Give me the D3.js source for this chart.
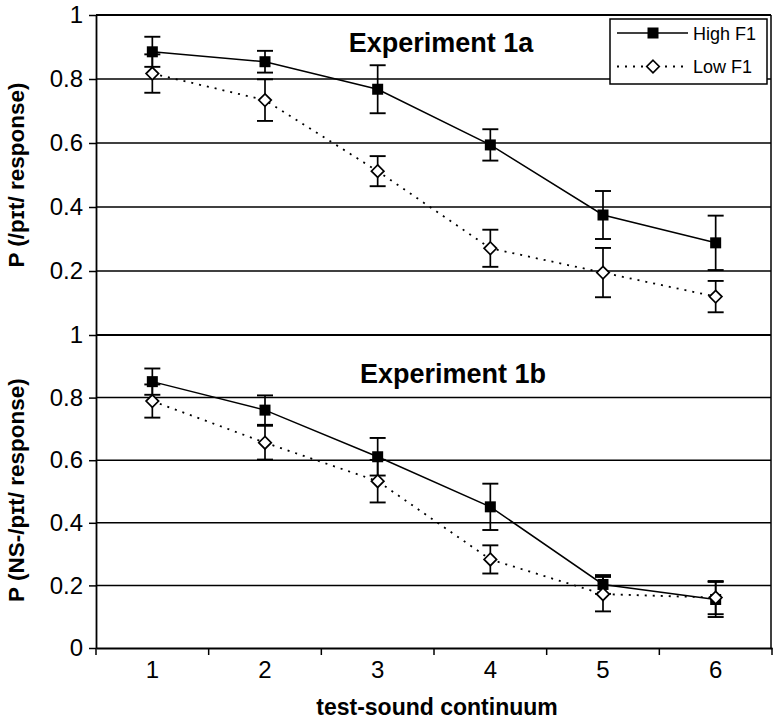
<!DOCTYPE html>
<html>
<head>
<meta charset="utf-8">
<script src="https://cdn.jsdelivr.net/npm/d3@7"></script>
<style>
  body { margin: 0; background: #fff; }
  svg text { font-family: "Liberation Sans", Arial, Helvetica, sans-serif; fill: #000; }
</style>
</head>
<body>
<div id="grafico"></div>
<script>
// Continuum steps
const passos = [1, 2, 3, 4, 5, 6];

// Experiment 1a
const altoA = [0.885, 0.854, 0.768, 0.594, 0.375, 0.288];
const altoAErro = [0.047, 0.034, 0.075, 0.049, 0.075, 0.085];
const baixoA = [0.817, 0.734, 0.512, 0.271, 0.195, 0.120];
const baixoAErro = [0.060, 0.065, 0.047, 0.058, 0.077, 0.049];

// Experiment 1b
const altoB = [0.851, 0.760, 0.611, 0.451, 0.203, 0.155];
const altoBErro = [0.042, 0.047, 0.060, 0.074, 0.030, 0.056];
const baixoB = [0.789, 0.656, 0.533, 0.283, 0.172, 0.161];
const baixoBErro = [0.053, 0.054, 0.068, 0.045, 0.055, 0.053];

const ticksTopo = [0.2, 0.4, 0.6, 0.8, 1];
const ticksBaixo = [0, 0.2, 0.4, 0.6, 0.8, 1];
const grade = [0.2, 0.4, 0.6, 0.8];

const rotulos = ["High F1", "Low F1"];

// Layout
const W = 776, H = 721;
const esq = 96, dir = 771;
const topoA = 15, fundoA = 335;
const topoB = 335, fundoB = 648;
const pontilhado = "2,6";

const svg = d3.select("#grafico").append("svg")
    .attr("width", W)
    .attr("height", H);

const x = d3.scaleBand().domain(passos).range([esq, 772]);
const cx = d => x(d) + x.bandwidth() / 2;

const yA = d3.scaleLinear().domain([0, 1]).range([fundoA, topoA]);
const yB = d3.scaleLinear().domain([0, 1]).range([fundoB, topoB]);

function painel(y, ticks, alto, altoErro, baixo, baixoErro, titulo, tx, ty, rotuloY, ly) {
    const g = svg.append("g");

    // grade
    g.selectAll(".grade").data(grade).enter().append("line")
        .attr("x1", esq).attr("x2", dir)
        .attr("y1", d => y(d)).attr("y2", d => y(d))
        .attr("stroke", "#000").attr("stroke-width", 1.5);

    // borda superior e direita
    g.append("line").attr("x1", esq).attr("x2", dir)
        .attr("y1", y(1)).attr("y2", y(1))
        .attr("stroke", "#000").attr("stroke-width", 1.8);
    g.append("line").attr("x1", dir).attr("x2", dir)
        .attr("y1", y(1)).attr("y2", y(0))
        .attr("stroke", "#000").attr("stroke-width", 1.5);

    // eixo y
    const eixo = g.append("g")
        .attr("transform", `translate(${esq},0)`)
        .call(d3.axisLeft(y).tickValues(ticks).tickSize(7).tickSizeOuter(0).tickPadding(6)
            .tickFormat(d => d === 0 || d === 1 ? d3.format("d")(d) : d3.format(".1f")(d)));
    eixo.select(".domain").attr("stroke-width", 1.8);
    eixo.selectAll(".tick line").attr("stroke-width", 1.5);
    eixo.selectAll(".tick text").style("font-size", "24px");

    // titulo do painel
    g.append("text")
        .attr("x", tx).attr("y", ty)
        .attr("text-anchor", "middle")
        .style("font-size", "27px").style("font-weight", "bold")
        .text(titulo);

    // titulo do eixo y
    g.append("text")
        .attr("transform", `translate(24,${ly}) rotate(-90)`)
        .attr("text-anchor", "middle")
        .style("font-size", "22.5px").style("font-weight", "bold")
        .text(rotuloY);

    const linha = d3.line().x((d, i) => cx(passos[i])).y(d => y(d));

    g.append("path").datum(baixo)
        .attr("d", linha).attr("fill", "none")
        .attr("stroke", "#000").attr("stroke-width", 1.8)
        .attr("stroke-dasharray", pontilhado);
    g.append("path").datum(alto)
        .attr("d", linha).attr("fill", "none")
        .attr("stroke", "#000").attr("stroke-width", 1.5);

    // barras de erro
    const series = [[alto, altoErro], [baixo, baixoErro]];
    series.forEach(([v, e]) => {
        const b = g.append("g");
        passos.forEach((p, i) => {
            const xi = cx(p);
            b.append("line").attr("x1", xi).attr("x2", xi)
                .attr("y1", y(v[i] + e[i])).attr("y2", y(v[i] - e[i]))
                .attr("stroke", "#000").attr("stroke-width", 1.7);
            [v[i] + e[i], v[i] - e[i]].forEach(c => {
                b.append("line").attr("x1", xi - 8).attr("x2", xi + 8)
                    .attr("y1", y(c)).attr("y2", y(c))
                    .attr("stroke", "#000").attr("stroke-width", 1.9);
            });
        });
    });

    // marcadores
    g.selectAll(".quad").data(alto).enter().append("rect")
        .attr("x", (d, i) => cx(passos[i]) - 5.5).attr("y", d => y(d) - 5.5)
        .attr("width", 11).attr("height", 11)
        .attr("fill", "#000");
    g.selectAll(".losango").data(baixo).enter().append("path")
        .attr("d", d3.symbol(d3.symbolDiamond2, 100))
        .attr("transform", (d, i) => `translate(${cx(passos[i])},${y(d)})`)
        .attr("fill", "#fff").attr("stroke", "#000").attr("stroke-width", 1.7);
}

painel(yA, ticksTopo, altoA, altoAErro, baixoA, baixoAErro,
    "Experiment 1a", 441, 52, "P (/pɪt/ response)", 175);
painel(yB, ticksBaixo, altoB, altoBErro, baixoB, baixoBErro,
    "Experiment 1b", 453, 383, "P (NS-/pɪt/ response)", 490);

// eixo x
const ex = svg.append("g")
    .attr("transform", `translate(0,${fundoB})`)
    .call(d3.axisBottom(x).tickSize(0).tickPadding(13));
ex.select(".domain").attr("stroke-width", 1.8);
ex.selectAll(".tick text").style("font-size", "24px");

// marcas entre categorias
svg.append("g").selectAll("line")
    .data(passos.concat([7]))
    .enter().append("line")
    .attr("x1", (d, i) => i < passos.length ? x(d) : 772)
    .attr("x2", (d, i) => i < passos.length ? x(d) : 772)
    .attr("y1", fundoB).attr("y2", fundoB + 7)
    .attr("stroke", "#000").attr("stroke-width", 1.5);

svg.append("text")
    .attr("x", 437).attr("y", 715)
    .attr("text-anchor", "middle")
    .style("font-size", "23px").style("font-weight", "bold")
    .text("test-sound continuum");

// legenda
const leg = svg.append("g").attr("transform", "translate(610,19)");
leg.append("rect").attr("width", 157).attr("height", 65)
    .attr("fill", "#fff").attr("stroke", "#000").attr("stroke-width", 1.5);

rotulos.forEach((r, i) => {
    const yy = 14 + i * 33.5;
    leg.append("line").attr("x1", 7).attr("x2", 78)
        .attr("y1", yy).attr("y2", yy)
        .attr("stroke", "#000").attr("stroke-width", i === 0 ? 1.5 : 1.8)
        .attr("stroke-dasharray", i === 0 ? null : pontilhado);
    if (i === 0) {
        leg.append("rect").attr("x", 37.5).attr("y", yy - 5.5)
            .attr("width", 11).attr("height", 11).attr("fill", "#000");
    } else {
        leg.append("path").attr("d", d3.symbol(d3.symbolDiamond2, 100))
            .attr("transform", `translate(43,${yy})`)
            .attr("fill", "#fff").attr("stroke", "#000").attr("stroke-width", 1.7);
    }
    leg.append("text").attr("x", 83).attr("y", yy + 6.5)
        .style("font-size", "18px")
        .text(r);
});
</script>
</body>
</html>
